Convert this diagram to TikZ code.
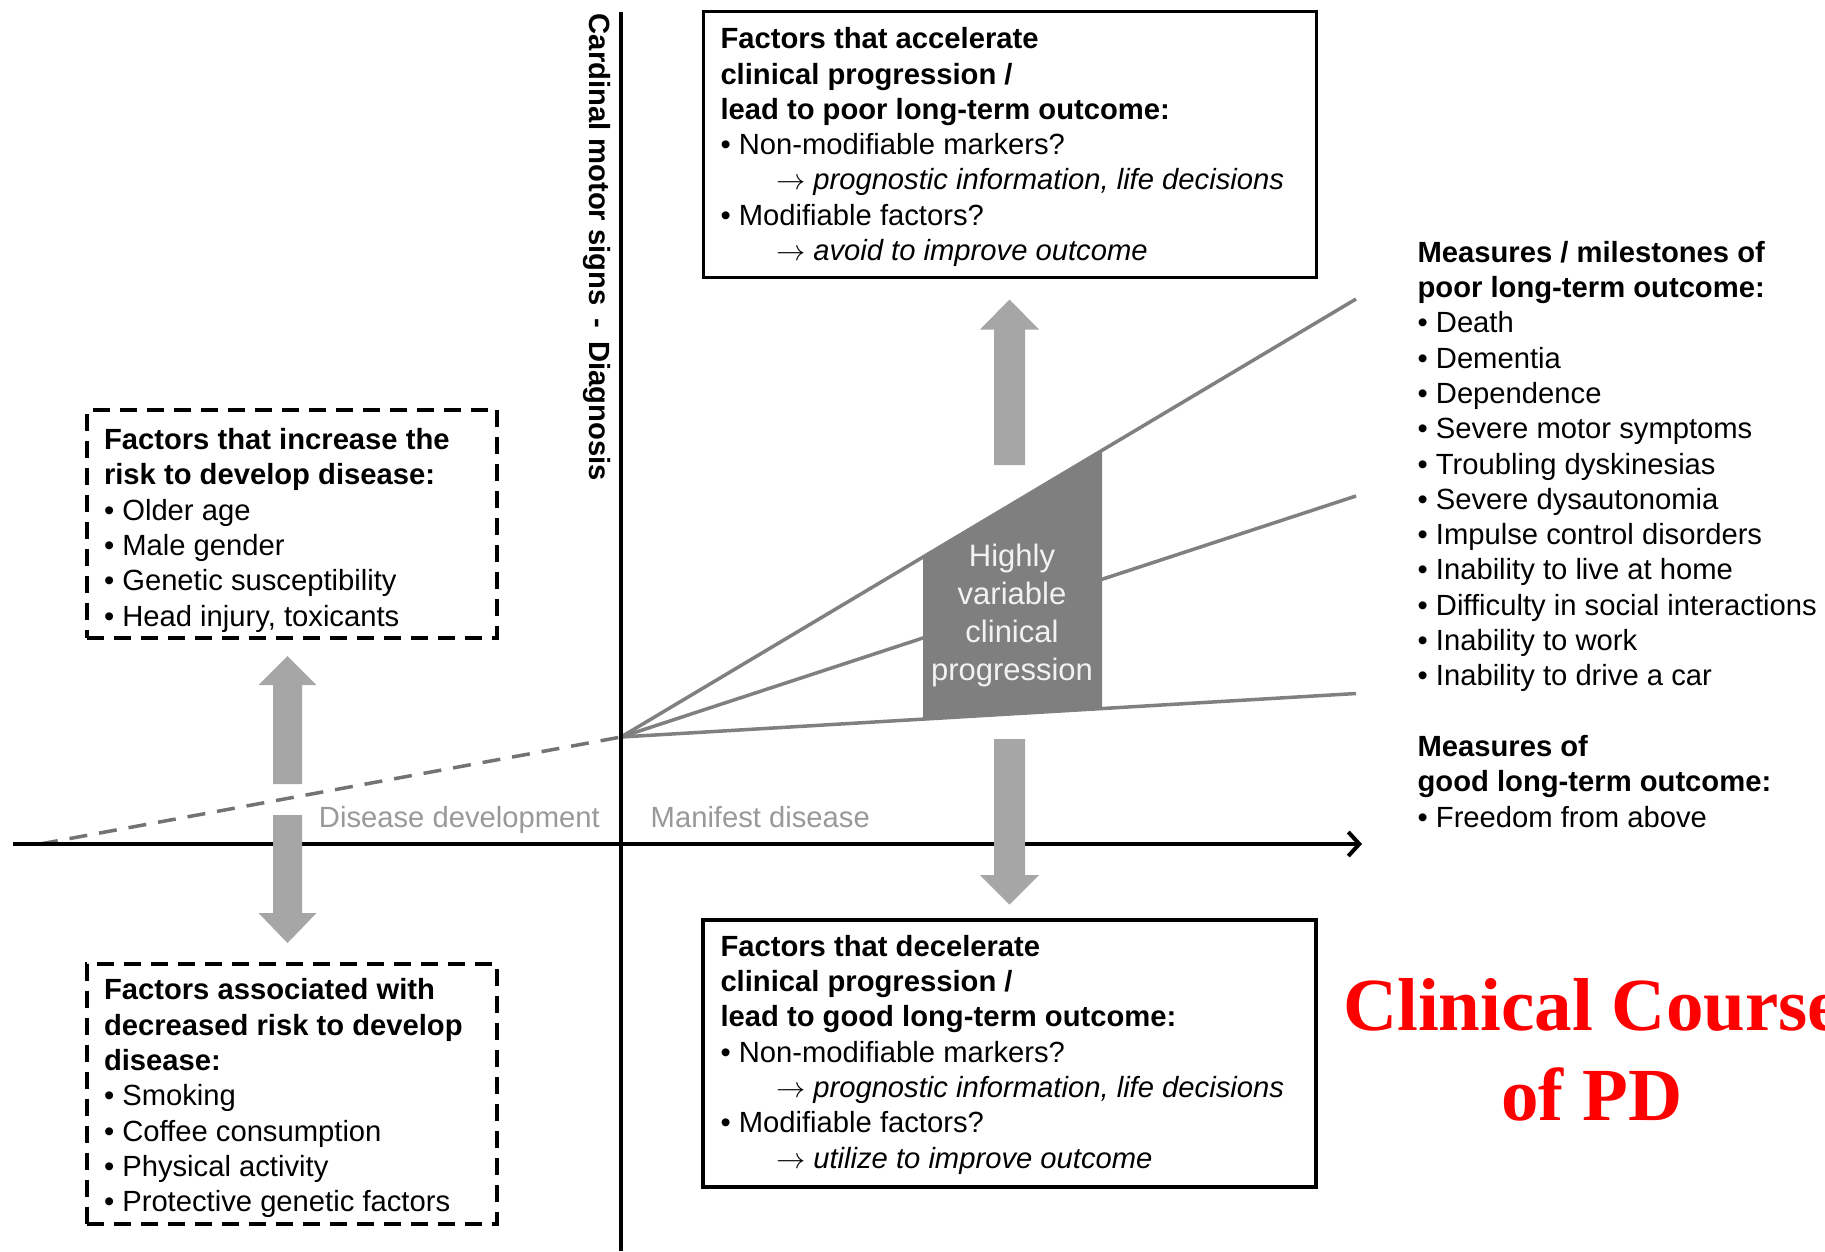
\RequirePackage{fix-cm}
\documentclass[tikz,border=0pt]{standalone}
\usepackage{fontspec}
\setmainfont{Liberation Sans}
\newfontfamily\titlefont{Liberation Serif}
\usetikzlibrary{arrows.meta,calc}
\definecolor{linegray}{HTML}{808080}
\definecolor{arrowgray}{HTML}{A6A6A6}
\definecolor{trapgray}{HTML}{7F7F7F}
\definecolor{labelgray}{HTML}{999999}
\definecolor{traptext}{HTML}{F2F2F2}
\definecolor{titlered}{HTML}{FF0000}
\newcommand{\thinarrow}{\hspace*{55.5pt}$\rightarrow$ }
\begin{document}
\begin{tikzpicture}[x=1pt,y=-1pt,
  bodytext/.style={font=\fontsize{29.2pt}{35.3pt}\selectfont, align=left, inner sep=0pt, outer sep=0pt, anchor=base west},
  solidbox/.style={draw=black, line width=3.5pt, inner sep=0pt, outer sep=0pt},
  dashbox/.style={draw=black, line width=4pt, dash pattern=on 17pt off 10pt, inner sep=0pt, outer sep=0pt},
  trendline/.style={draw=linegray, line width=3.5pt},
  axisline/.style={draw=black, line width=4pt},
  blockarrow/.style={fill=arrowgray},
  graylabel/.style={font=\fontsize{29.2pt}{35pt}\selectfont, text=labelgray, inner sep=0pt}
]
\useasboundingbox (0,0) rectangle (1825,1251);
\fill[white] (0,0) rectangle (1825,1251);

% key coordinates
\coordinate (O) at (621,737);
\coordinate (ytop) at (621,12);
\coordinate (ybot) at (621,1251);
\coordinate (xleft) at (13,844);
\coordinate (xright) at (1362,844);
\coordinate (dstart) at (40,844);
\coordinate (e1) at (1356,299);
\coordinate (e2) at (1356,496);
\coordinate (e3) at (1356,693.5);

% trend lines
\draw[trendline] (O) -- (e1);
\draw[trendline] (O) -- (e2);
\draw[trendline] (O) -- (e3);
\draw[draw=linegray!90!black, line width=3.5pt, dash pattern=on 18pt off 12pt] (dstart) -- (O);

% variable progression block
\fill[trapgray] ($(O)!0.41088!(e1)$) -- ($(O)!0.65442!(e1)$) -- ($(O)!0.65442!(e3)$) -- ($(O)!0.41088!(e3)$) -- cycle;
\node[font=\fontsize{31pt}{38pt}\selectfont, text=traptext, align=center, inner sep=0pt, anchor=base] (hv) at (1012,680.7) {Highly\\variable\\clinical\\progression};

% axes
\draw[axisline] (ytop) -- (ybot);
\draw[axisline, -{Straight Barb[length=11pt,width=24pt]}] (xleft) -- (xright);

% block arrows
\fill[blockarrow] (994,465) -- (994,329.5) -- (980,329.5) -- (1009.5,299.5) -- (1039,329.5) -- (1025,329.5) -- (1025,465) -- cycle;
\fill[blockarrow] (994,739) -- (994,875) -- (980,875) -- (1009.5,904.5) -- (1039,875) -- (1025,875) -- (1025,739) -- cycle;
\fill[blockarrow] (273,784) -- (273,685) -- (258.5,685) -- (287.5,656) -- (316.5,685) -- (302,685) -- (302,784) -- cycle;
\fill[blockarrow] (273,815) -- (273,913) -- (258.5,913) -- (287.5,943) -- (316.5,913) -- (302,913) -- (302,815) -- cycle;

% axis labels
\node[graylabel, anchor=base east] (dd) at (600,827) {Disease development};
\node[graylabel, anchor=base west] (md) at (650.5,827) {Manifest disease};
\node[font=\fontsize{29.2pt}{35pt}\selectfont\bfseries, rotate=-90, anchor=base west, inner sep=0pt] (ylab) at (589.5,13.5) {Cardinal motor signs\hspace{13pt}-\hspace{13pt}Diagnosis};

% boxes
\node[solidbox, minimum width=613pt, minimum height=266pt] (accbox) at (1010,144.6) {};
\node[solidbox, minimum width=613pt, minimum height=267pt] (decbox) at (1009.5,1053.7) {};
\node[dashbox, minimum width=410pt, minimum height=228.5pt] (riskbox) at (292,523.75) {};
\node[dashbox, minimum width=410pt, minimum height=260pt] (protbox) at (292,1093.5) {};

\node[bodytext] (acctext) at (720.5,260.5) {\textbf{Factors that accelerate}\\
\textbf{clinical progression /}\\
\textbf{lead to poor long-term outcome:}\\
• Non-modifiable markers?\\
\thinarrow\textit{prognostic information, life decisions}\\
• Modifiable factors?\\
\thinarrow\textit{avoid to improve outcome}};

\node[bodytext] (dectext) at (720.5,1168) {\textbf{Factors that decelerate}\\
\textbf{clinical progression /}\\
\textbf{lead to good long-term outcome:}\\
• Non-modifiable markers?\\
\thinarrow\textit{prognostic information, life decisions}\\
• Modifiable factors?\\
\thinarrow\textit{utilize to improve outcome}};

\node[bodytext] (risktext) at (104,626) {\textbf{Factors that increase the}\\
\textbf{risk to develop disease:}\\
• Older age\\
• Male gender\\
• Genetic susceptibility\\
• Head injury, toxicants};

\node[bodytext] (prottext) at (104,1211.7) {\textbf{Factors associated with}\\
\textbf{decreased risk to develop}\\
\textbf{disease:}\\
• Smoking\\
• Coffee consumption\\
• Physical activity\\
• Protective genetic factors};

\node[bodytext] (outtext) at (1417.6,827) {\textbf{Measures / milestones of}\\
\textbf{poor long-term outcome:}\\
• Death\\
• Dementia\\
• Dependence\\
• Severe motor symptoms\\
• Troubling dyskinesias\\
• Severe dysautonomia\\
• Impulse control disorders\\
• Inability to live at home\\
• Difficulty in social interactions\\
• Inability to work\\
• Inability to drive a car\\[35.3pt]
\textbf{Measures of}\\
\textbf{good long-term outcome:}\\
• Freedom from above};

\node[font=\fontsize{75pt}{90pt}\selectfont\titlefont\bfseries, text=titlered, align=center, inner sep=0pt, anchor=base] (title) at (1592,1120) {Clinical Course\\of PD};
\end{tikzpicture}
\end{document}
